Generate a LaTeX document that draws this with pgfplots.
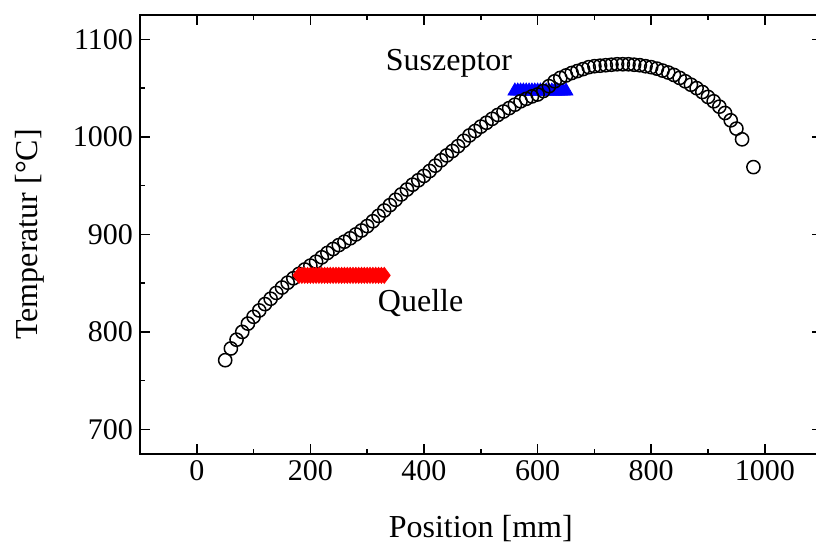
\documentclass[border=0pt]{standalone}
\usepackage{fontspec}
\setmainfont{Liberation Serif}
\usepackage{pgfplots}
\pgfplotsset{compat=1.18}
\begin{document}
\begin{tikzpicture}
\begin{axis}[
  width=340.8pt, height=219.4pt, scale only axis,
  xmin=-100, xmax=1100, ymin=675, ymax=1125,
  xtick={0,200,...,1000}, ytick={700,800,...,1100},
  minor tick num=1,
  tick align=inside,
  major tick length=5pt, minor tick length=2.5pt,
  tick style={line width=0.75pt, black},
  axis line style={line width=1pt},
  /pgf/number format/assume math mode=true,
  /pgf/number format/1000 sep={},
  ticklabel style={font=\fontsize{15}{18}\selectfont},
  label style={font=\fontsize{16}{19}\selectfont},
  xlabel={Position [mm]},
  ylabel={Temperatur [°C]},
  xlabel style={at={(axis description cs:0.5,-0.171)}, anchor=center},
  ylabel style={at={(axis description cs:-0.1614,0.5)}, anchor=center},
  clip=false,
]
\addplot[only marks, mark=triangle*, mark size=4pt, blue, mark options={fill=blue, draw=blue}]
  coordinates {(560,1047)(565,1047)(570,1047)(575,1047)(580,1047)(585,1047)(590,1047)(595,1047)(600,1047)(605,1047)(610,1047)(615,1047)(620,1047)(625,1047)(630,1047)(635,1047)(640,1047)(645,1047)(650,1047)};
\addplot[only marks, mark=o, mark size=3.3pt, black, mark options={fill=white, line width=0.75pt}]
  table {
x y
50 771
60 783
70 792
80 800
90 808.5
100 815.5
110 822
120 828.5
130 834
140 840
150 845.5
160 850.5
170 855
180 859.5
190 864
200 868
210 872
220 876.5
230 881
240 885
250 889
260 892.5
270 896
280 900
290 904
300 908.5
310 913.5
320 919
330 924.5
340 930
350 935.5
360 941
370 946
380 951
390 955.5
400 960
410 965
420 970.5
430 976
440 981
450 985.5
460 990.5
470 996
480 1001.5
490 1006
500 1010.5
510 1014.5
520 1018.5
530 1022.5
540 1026
550 1029.5
560 1033
570 1036.5
580 1039
590 1041.5
600 1043.5
610 1047
620 1052
630 1057
640 1060.5
650 1063
660 1065.5
670 1067.5
680 1069.5
690 1071.5
700 1072.5
710 1073
720 1073.5
730 1074
740 1074.5
750 1074.5
760 1074.5
770 1074
780 1073.5
790 1072.5
800 1071.5
810 1070
820 1068
830 1066
840 1063.5
850 1060.5
860 1057
870 1053.5
880 1050
890 1046
900 1041
910 1036.5
920 1031
930 1024.5
940 1017
950 1008.5
960 997.5
980 969
};
\addplot[only marks, mark=diamond*, mark size=4pt, red, mark options={fill=red, draw=red}]
  coordinates {(180,858)(185,858)(190,858)(195,858)(200,858)(205,858)(210,858)(215,858)(220,858)(225,858)(230,858)(235,858)(240,858)(245,858)(250,858)(255,858)(260,858)(265,858)(270,858)(275,858)(280,858)(285,858)(290,858)(295,858)(300,858)(305,858)(310,858)(315,858)(320,858)(325,858)(330,858)};
\node[font=\fontsize{16}{19}\selectfont] at (axis cs:444,1075) {Suszeptor};
\node[font=\fontsize{16}{19}\selectfont] at (axis cs:394,830) {Quelle};
\end{axis}
\pgfresetboundingbox
\path[use as bounding box] ([xshift=-70pt,yshift=-48.5pt]current axis.south west) rectangle ([xshift=-2.8pt,yshift=7.5pt]current axis.north east);
\end{tikzpicture}
\end{document}
